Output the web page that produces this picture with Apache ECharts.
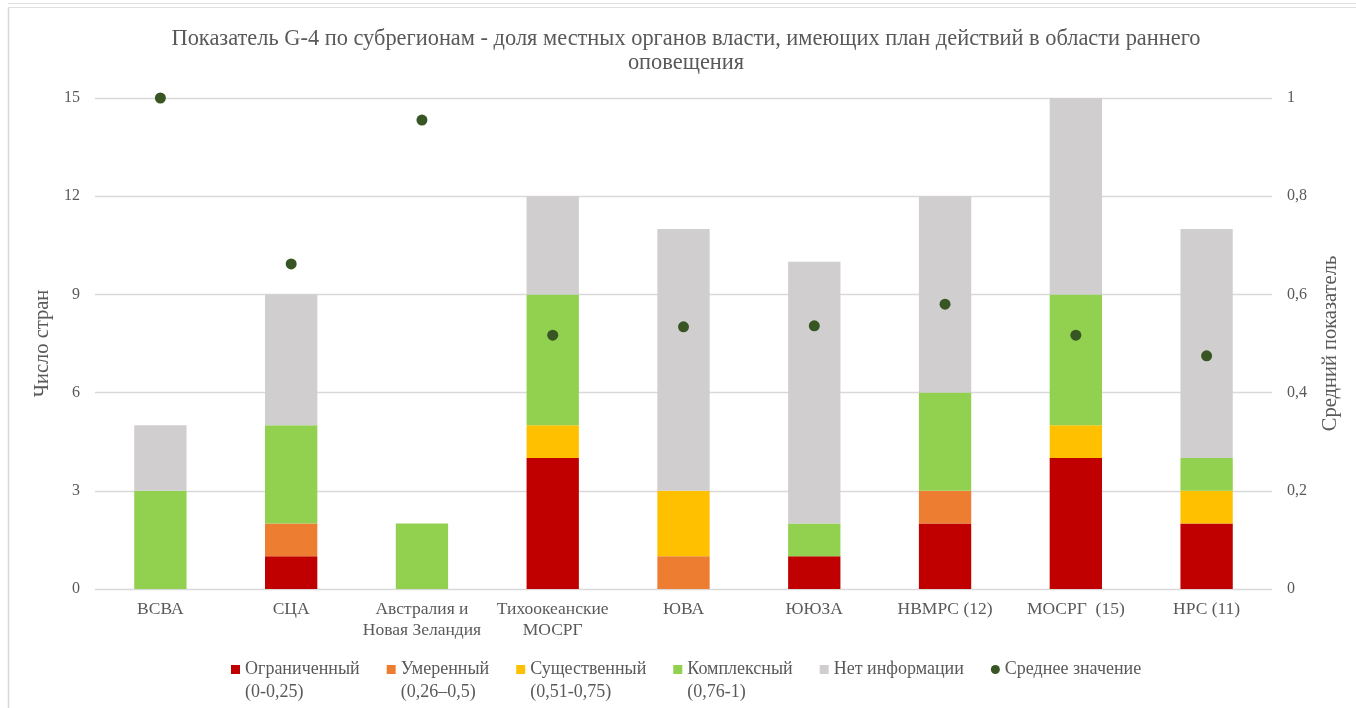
<!DOCTYPE html>
<html><head><meta charset="utf-8">
<script src="https://cdn.jsdelivr.net/npm/echarts@6/dist/echarts.min.js"></script>
<style>html,body{margin:0;padding:0;background:#fff}#c{width:1356px;height:708px}</style>
</head><body><div id="c"></div>
<script>
const categories = ['ВСВА','СЦА','Австралия и\nНовая Зеландия','Тихоокеанские\nМОСРГ','ЮВА','ЮЮЗА','НВМРС (12)','МОСРГ  (15)','НРС (11)'];
const limited     = [0,1,0,4,0,1,2,4,2];
const moderate    = [0,1,0,0,1,0,1,0,0];
const substantial = [0,0,0,1,2,0,0,1,1];
const comprehensive = [3,3,2,4,0,1,3,4,1];
const noInfo      = [2,4,0,3,8,8,6,6,7];
const meanValue   = [1.0,0.662,0.955,0.517,0.534,0.536,0.58,0.517,0.475];
const leftTicks = {min:0,max:15,interval:3};
const rightTicks = {min:0,max:1,interval:0.2};

const FONT = "'Liberation Serif','DejaVu Serif',serif";
const TXT = '#595959';
const names = ['Ограниченный\n(0-0,25)','Умеренный\n(0,26–0,5)','Существенный\n(0,51-0,75)','Комплексный\n(0,76-1)','Нет информации','Среднее значение'];
const colors = ['#C00000','#ED7D31','#FFC000','#92D050','#D0CECE','#375623'];
const barData = [limited,moderate,substantial,comprehensive,noInfo];

const chart = echarts.init(document.getElementById('c'));
const series = barData.map((d,i)=>({
  name:names[i], type:'bar', stack:'s', yAxisIndex:0, data:d,
  barWidth:'40%', itemStyle:{color:colors[i]}
}));
series.push({name:names[5], type:'scatter', yAxisIndex:1, data:meanValue, symbolSize:11,
  itemStyle:{color:colors[5],opacity:1}, z:5});

chart.setOption({
  animation:false,
  textStyle:{fontFamily:FONT},
  title:{text:'Показатель G-4 по субрегионам - доля местных органов власти, имеющих план действий в области раннего\nоповещения',
    left:681, textAlign:'center', top:22,
    textStyle:{fontFamily:FONT,fontSize:22.4,fontWeight:'normal',color:TXT,lineHeight:24}},
  grid:{left:95,right:84,top:98,bottom:119},
  legend:{top:630,left:226,itemWidth:9,itemHeight:9,itemGap:27,
    formatter:n=>n.indexOf('\n')>=0 ? ' \n'+n : n,
    textStyle:{fontFamily:FONT,fontSize:18,color:TXT,lineHeight:23},
    data:names.map((n,i)=>({name:n, icon:i===5?'circle':'rect'}))},
  xAxis:{type:'category',data:categories,
    axisLine:{show:false},axisTick:{show:false},
    axisLabel:{fontFamily:FONT,fontSize:17.5,color:TXT,lineHeight:21,margin:10,interval:0}},
  yAxis:[
    {type:'value',min:leftTicks.min,max:leftTicks.max,interval:leftTicks.interval,
     name:'Число стран',nameLocation:'middle',nameGap:39,nameRotate:90,
     nameTextStyle:{fontFamily:FONT,fontSize:20.5,color:TXT},
     axisLabel:{fontFamily:FONT,fontSize:16,color:TXT,margin:15},
     splitLine:{lineStyle:{color:'#D9D9D9',width:1.3}},axisLine:{show:false},axisTick:{show:false}},
    {type:'value',min:rightTicks.min,max:rightTicks.max,interval:rightTicks.interval,
     name:'Средний показатель',nameLocation:'middle',nameGap:48,nameRotate:90,
     nameTextStyle:{fontFamily:FONT,fontSize:20.5,color:TXT},
     axisLabel:{fontFamily:FONT,fontSize:16,color:TXT,margin:15,
       formatter:v=>String(Math.round(v*10)/10).replace('.',',')},
     splitLine:{show:false},axisLine:{show:false},axisTick:{show:false}}
  ],
  graphic:[
    {type:'line',shape:{x1:8,y1:3.5,x2:1356,y2:3.5},style:{stroke:'#E0E0E0',lineWidth:1}},
    {type:'line',shape:{x1:8,y1:7.5,x2:1356,y2:7.5},style:{stroke:'#E0E0E0',lineWidth:1}},
    {type:'line',shape:{x1:8.5,y1:7,x2:8.5,y2:708},style:{stroke:'#D9D9D9',lineWidth:1.5}}
  ],
  series:series
});
</script></body></html>
